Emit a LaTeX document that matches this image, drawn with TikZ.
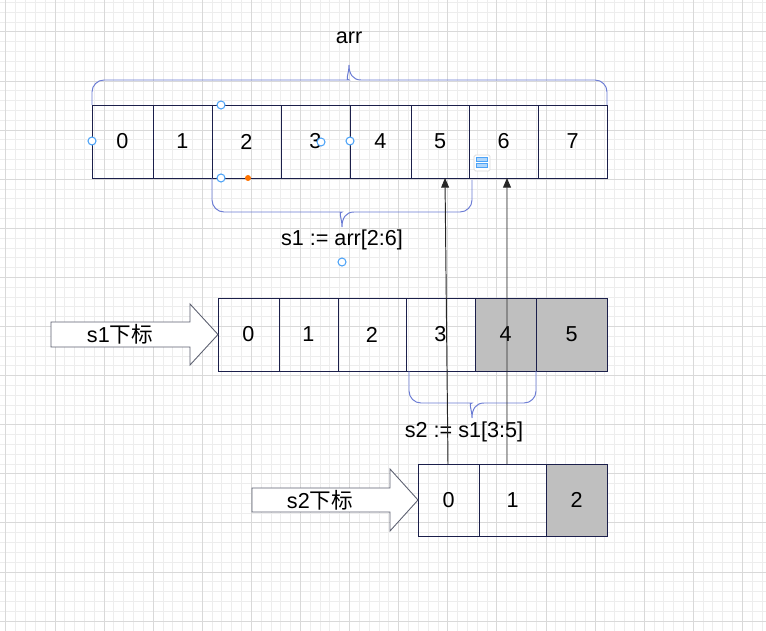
\documentclass[tikz,border=0pt]{standalone}
\usepackage{fontspec}
\setmainfont{Liberation Sans}
\newfontfamily\cjk{Noto Sans CJK SC}
\usepackage{xcolor}
\usepackage{tikz}
\usetikzlibrary{positioning,arrows.meta,calc}

\definecolor{cellline}{HTML}{1B1F4B}
\definecolor{bracecol}{HTML}{6A7BD4}
\definecolor{shade}{HTML}{BFBFBF}
\definecolor{handlecol}{HTML}{4DA3F7}
\definecolor{gridminor}{HTML}{EDEDED}
\definecolor{gridmajor}{HTML}{D9D9D9}
\definecolor{arrline}{HTML}{5C6070}

\begin{document}
\begin{tikzpicture}[
    x=0.02cm, y=-0.02cm,
    font=\fontsize{12.3}{14}\selectfont,
    cell/.style={draw=cellline, line width=0.5pt, minimum width=#1*0.02cm,
                 minimum height=1.46cm, inner sep=0pt, outer sep=0pt},
    shaded/.style={fill=shade},
    brace/.style={draw=bracecol, line width=0.55pt},
    blockarr/.style={draw=arrline, fill=white, line width=0.5pt},
    link/.style={-{Triangle[width=4.5pt,length=5.5pt]}, line width=0.55pt, black!85},
    handle/.style={draw=handlecol, fill=white, line width=0.6pt},
  ]
  \useasboundingbox (0,0) rectangle (766,631);
  \fill[white] (0,0) rectangle (766,631);

  % background grid
  \foreach \i in {0,...,78}
    \draw[gridminor, line width=0.55pt] ({5.9+9.82*\i},0) -- ++(0,631);
  \foreach \i in {0,...,64}
    \draw[gridminor, line width=0.55pt] (0,{2.5+9.82*\i}) -- ++(766,0);
  \foreach \i in {0,5,...,75}
    \draw[gridmajor, line width=0.55pt] ({5.9+9.82*\i},0) -- ++(0,631);
  \foreach \i in {3,8,...,63}
    \draw[gridmajor, line width=0.55pt] (0,{2.5+9.82*\i}) -- ++(766,0);

  % arr
  \node[cell=61, anchor=north west] (a0) at (92,105) {0};
  \node[cell=59, right=0pt of a0] (a1) {1};
  \node[cell=69, right=0pt of a1] (a2) {2};
  \node[cell=69, right=0pt of a2] (a3) {3};
  \node[cell=61, right=0pt of a3] (a4) {4};
  \node[cell=58, right=0pt of a4] (a5) {5};
  \node[cell=69, right=0pt of a5] (a6) {6};
  \node[cell=69, right=0pt of a6] (a7) {7};

  \draw[brace] (a0.north west) [rounded corners=0.24cm] -- (92,80) -- (337,80)
    [sharp corners] .. controls (345,80) and (349,74) .. (349,65)
    .. controls (349,74) and (353,80) .. (361,80)
    [rounded corners=0.24cm] -- (607,80) -- (a7.north east);
  \node (arrlbl) at (349,38) {arr};

  \draw[brace] (a2.south west) [rounded corners=0.24cm] -- (212,212) -- (330,212)
    [sharp corners] .. controls (338,212) and (342,218) .. (342,227)
    .. controls (342,218) and (346,212) .. (354,212)
    [rounded corners=0.24cm] -- (472,212) -- (472,180);
  \node (s1lbl) at (342,240) {s1 := arr[2:6]};

  % s1
  \node[cell=61, anchor=north west] (b0) at (218,298) {0};
  \node[cell=59, right=0pt of b0] (b1) {1};
  \node[cell=68, right=0pt of b1] (b2) {2};
  \node[cell=69, right=0pt of b2] (b3) {3};
  \node[cell=61, shaded, right=0pt of b3] (b4) {4};
  \node[cell=71, shaded, right=0pt of b4] (b5) {5};

  \draw[blockarr, shift={(b0.west)}] (0,0) -- (-28,30.5) -- (-28,12.5)
    -- (-167,12.5) -- (-167,-12.5) -- (-28,-12.5) -- (-28,-30.5) -- cycle;
  \node (s1idx) at ($(b0.west)+(-98,0)$) {s1{\cjk 下标}};

  \draw[brace] (409,371) [rounded corners=0.24cm] -- (409,403) -- (460,403)
    [sharp corners] .. controls (468,403) and (472,409) .. (472,418)
    .. controls (472,409) and (476,403) .. (484,403)
    [rounded corners=0.24cm] -- (536,403) -- (b4.south east);
  \node (s2lbl) at (464,432) {s2 := s1[3:5]};

  % s2
  \node[cell=61, anchor=north west, minimum height=1.44cm] (c0) at (418,464) {0};
  \node[cell=67, minimum height=1.44cm, right=0pt of c0] (c1) {1};
  \node[cell=61, shaded, minimum height=1.44cm, right=0pt of c1] (c2) {2};

  \draw[blockarr, shift={(c0.west)}] (0,0) -- (-28,31) -- (-28,12)
    -- (-166,12) -- (-166,-12) -- (-28,-12) -- (-28,-31) -- cycle;
  \node (s2idx) at ($(c0.west)+(-98,0)$) {s2{\cjk 下标}};

  % shared storage
  \draw[link] ($(c0.north west)+(30,0)$) -- ($(a5.south west)+(34,0)$);
  \draw[link] ($(c1.north west)+(28,0)$) -- ($(a6.south west)+(38,0)$);

  % editor handles
  \foreach \p in {(92,141),(221,105),(221,178),(321,142),(350,141),(342,262)}
    \draw[handle] \p circle[radius=0.08cm];
  \fill[orange!90!red] (248,178) circle[radius=0.06cm];
  \draw[gray!30, fill=white, rounded corners=0.03cm] (474,155) rectangle (490,171);
  \draw[handlecol, fill=handlecol!45] (476.7,157.7) rectangle (487.5,161.3);
  \draw[handlecol, fill=handlecol!45] (476.7,163.3) rectangle (487.5,167);
\end{tikzpicture}
\end{document}
